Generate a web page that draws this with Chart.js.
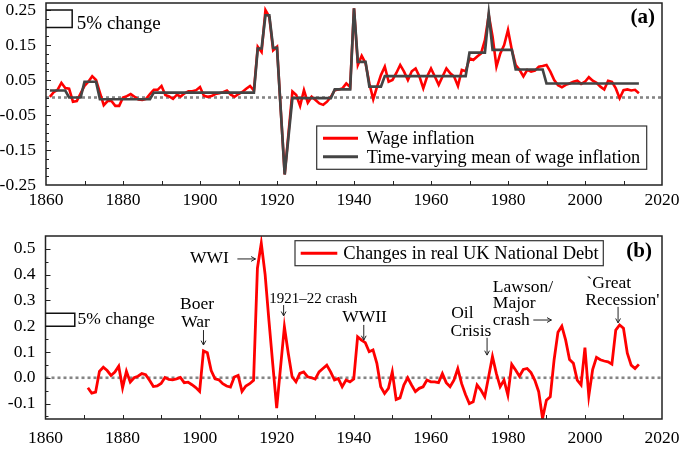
<!DOCTYPE html>
<html><head><meta charset="utf-8">
<script src="https://cdn.jsdelivr.net/npm/chart.js@4"></script>
<style>
html,body{margin:0;padding:0;background:#fff;}
#wrap{position:relative;width:685px;height:450px;overflow:hidden;}
canvas{position:absolute;left:0;}
#ca{top:0;} #cb{top:215px;}
</style></head><body>
<div id="wrap"><canvas id="ca" width="685" height="215"></canvas><canvas id="cb" width="685" height="235"></canvas></div>
<script>
// ---------- DATA ----------
const wageStartYear = 1861;
const wageInflation = [
  0.002, 0.015, 0.022, 0.042, 0.027, 0.025, -0.012, -0.01, 0.012, 0.033,
  0.045, 0.061, 0.05, 0.014, -0.022, -0.01, -0.01, -0.024, -0.024, 0.0,
  0.004, 0.01, 0.002, -0.006, -0.007, -0.004, 0.01, 0.022, 0.022, 0.033,
  0.007, 0.003, -0.004, 0.008, 0.003, 0.012, 0.018, 0.018, 0.021, 0.03,
  0.005, 0.002, 0.004, 0.01, 0.012, 0.015, 0.02, 0.008, 0.002, 0.01,
  0.016, 0.025, 0.033, 0.02, 0.145, 0.13, 0.25, 0.23, 0.135, 0.145,
  -0.04, -0.22, -0.1, 0.017, 0.007, -0.024, 0.021, -0.015, 0.002, -0.007,
  -0.017, -0.021, -0.012, 0.002, 0.021, 0.023, 0.026, 0.04, 0.03, 0.255,
  0.093, 0.119, 0.098, 0.04, -0.005, 0.031, 0.064, 0.088, 0.045, 0.05,
  0.07, 0.093, 0.074, 0.05, 0.075, 0.083, 0.06, 0.026, 0.06, 0.083,
  0.06, 0.036, 0.06, 0.083, 0.069, 0.06, 0.033, 0.079, 0.075, 0.112,
  0.107, 0.117, 0.126, 0.164, 0.236, 0.174, 0.088, 0.126, 0.15, 0.193,
  0.136, 0.093, 0.079, 0.06, 0.079, 0.074, 0.077, 0.088, 0.09, 0.093,
  0.074, 0.05, 0.035, 0.029, 0.036, 0.04, 0.045, 0.048, 0.039, 0.045,
  0.058, 0.048, 0.042, 0.031, 0.023, 0.048, 0.045, 0.026, -0.002, 0.021,
  0.023, 0.02, 0.022, 0.012
];
const wageMean = [
  0.02, 0.02, 0.02, 0.02, 0.02, 0.0, 0.0, 0.0, 0.0, 0.045,
  0.045, 0.045, 0.045, -0.005, -0.005, -0.005, -0.005, -0.005, -0.005, -0.005,
  -0.005, -0.005, -0.005, -0.005, -0.005, -0.005, -0.005, 0.014, 0.014, 0.014,
  0.014, 0.014, 0.014, 0.014, 0.014, 0.014, 0.014, 0.014, 0.014, 0.014,
  0.014, 0.014, 0.014, 0.014, 0.014, 0.014, 0.014, 0.014, 0.014, 0.014,
  0.014, 0.014, 0.014, 0.014, 0.14, 0.14, 0.235, 0.235, 0.142, 0.142,
  -0.04, -0.22, -0.11, -0.002, -0.002, -0.002, -0.002, -0.002, -0.002, -0.002,
  -0.002, -0.002, -0.002, -0.002, 0.023, 0.023, 0.023, 0.023, 0.023, 0.255,
  0.102, 0.102, 0.102, 0.031, 0.031, 0.031, 0.031, 0.061, 0.061, 0.061,
  0.061, 0.061, 0.061, 0.061, 0.061, 0.061, 0.061, 0.061, 0.061, 0.061,
  0.061, 0.061, 0.061, 0.061, 0.061, 0.061, 0.061, 0.061, 0.061, 0.128,
  0.128, 0.128, 0.128, 0.128, 0.24, 0.136, 0.136, 0.136, 0.136, 0.136,
  0.136, 0.08, 0.08, 0.08, 0.08, 0.08, 0.08, 0.08, 0.08, 0.04,
  0.04, 0.04, 0.04, 0.04, 0.04, 0.04, 0.04, 0.04, 0.04, 0.04,
  0.04, 0.04, 0.04, 0.04, 0.04, 0.04, 0.04, 0.04, 0.04, 0.04,
  0.04, 0.04, 0.04, 0.04
];
const debtStartYear = 1871;
const debtChange = [
  -0.039, -0.06, -0.056, 0.025, 0.041, 0.028, 0.009, 0.022, 0.045, -0.039,
  0.025, -0.017, 0.0, 0.006, 0.016, 0.012, -0.01, -0.034, -0.032, -0.022,
  0.001, -0.006, -0.008, -0.004, 0.001, -0.019, -0.017, -0.027, -0.038, -0.053,
  0.104, 0.097, 0.028, -0.004, -0.008, -0.023, -0.032, -0.036, 0.003, 0.009,
  -0.053, -0.032, -0.023, -0.01, 0.425, 0.522, 0.40, 0.22, 0.05, -0.118,
  0.04, 0.198, 0.095, 0.004, -0.016, 0.017, 0.023, 0.004, 0.0, -0.005,
  0.023, 0.036, 0.049, 0.023, -0.009, -0.003, -0.035, -0.009, -0.016, -0.005,
  0.159, 0.146, 0.136, 0.101, 0.108, 0.056, -0.035, -0.061, -0.041, 0.023,
  -0.084, -0.078, -0.028, 0.0, -0.028, -0.054, -0.041, -0.035, -0.009, -0.016,
  -0.016, -0.019, 0.016, -0.019, -0.035, -0.009, 0.035, -0.023, -0.065, -0.1,
  -0.093, -0.028, -0.048, -0.074, 0.004, 0.082, 0.017, -0.035, -0.009, -0.067,
  0.052, 0.03, 0.006, 0.032, 0.036, 0.02, -0.01, -0.054, -0.158, -0.087,
  -0.074, 0.07, 0.177, 0.2, 0.146, 0.071, 0.056, -0.009, -0.028, 0.117,
  -0.071, 0.032, 0.079, 0.07, 0.065, 0.062, 0.053, 0.185, 0.205, 0.192,
  0.095, 0.049, 0.036, 0.052
];
const xTickLabels = [1860, 1880, 1900, 1920, 1940, 1960, 1980, 2000, 2020];
const yTickLabelsA = [-0.25, -0.15, -0.05, 0.05, 0.15, 0.25];
const yTickLabelsB = [-0.1, 0.0, 0.1, 0.2, 0.3, 0.4, 0.5];
const legendA = ['Wage inflation', 'Time-varying mean of wage inflation'];
const legendB = ['Changes in real UK National Debt'];

// ---------- HELPERS ----------
const FONT = "'Liberation Serif','Times New Roman',Times,serif";
const toPoints = (start, arr) => arr.map((v, i) => ({x: start + i, y: v}));
const RED = '#ff0000', DARK = '#444444';

function arrow(ctx, x1, y1, x2, y2) {
  ctx.beginPath(); ctx.moveTo(x1, y1); ctx.lineTo(x2, y2); ctx.stroke();
  const ang = Math.atan2(y2 - y1, x2 - x1), h = 5;
  ctx.beginPath();
  ctx.moveTo(x2 - h * Math.cos(ang - 0.5), y2 - h * Math.sin(ang - 0.5));
  ctx.lineTo(x2, y2);
  ctx.lineTo(x2 - h * Math.cos(ang + 0.5), y2 - h * Math.sin(ang + 0.5));
  ctx.stroke();
}

function decorPlugin(cfg) {
  return {
    id: 'decor',
    afterDraw(chart) {
      const {ctx, chartArea: a, scales: {x, y}} = chart;
      ctx.save();
      ctx.strokeStyle = '#222'; ctx.lineWidth = 1;
      for (let yr = 1870; yr < 2020; yr += 10) {
        const px = Math.round(x.getPixelForValue(yr)) + 0.5;
        ctx.beginPath(); ctx.moveTo(px, a.bottom); ctx.lineTo(px, a.bottom - 4); ctx.stroke();
      }
      for (let k = cfg.yTickFrom; k <= cfg.yTickTo; k++) {
        const v = k * cfg.yTickStep;
        if (v <= y.min || v >= y.max) continue;
        const py = Math.round(y.getPixelForValue(v)) + 0.5;
        const major = cfg.labels.some(l => Math.abs(l - v) < 1e-6);
        ctx.beginPath(); ctx.moveTo(a.left, py); ctx.lineTo(a.left + (major ? 5 : 3), py); ctx.stroke();
      }
      ctx.strokeStyle = '#222'; ctx.lineWidth = 1.5;
      ctx.strokeRect(a.left, a.top, a.right - a.left, a.bottom - a.top);
      ctx.lineWidth = 1.5; ctx.strokeStyle = '#111';
      const bx0 = a.left, bx1 = x.getPixelForValue(cfg.bracket.x1);
      const by0 = y.getPixelForValue(0.25), by1 = y.getPixelForValue(0.20);
      ctx.beginPath(); ctx.moveTo(bx0, by0); ctx.lineTo(bx1, by0); ctx.lineTo(bx1, by1); ctx.lineTo(bx0, by1); ctx.stroke();
      ctx.fillStyle = '#000'; ctx.textBaseline = 'alphabetic'; ctx.textAlign = 'left';
      ctx.font = cfg.bracket.size + 'px ' + FONT;
      ctx.fillText('5% change', x.getPixelForValue(cfg.bracket.tx), y.getPixelForValue(cfg.bracket.ty));
      const L = cfg.legend;
      ctx.fillStyle = '#fff';
      ctx.fillRect(L.x0, L.y0, L.x1 - L.x0, L.y1 - L.y0);
      ctx.strokeStyle = '#333'; ctx.lineWidth = 1.2;
      ctx.strokeRect(L.x0, L.y0, L.x1 - L.x0, L.y1 - L.y0);
      ctx.font = L.size + 'px ' + FONT; ctx.textBaseline = 'middle';
      L.items.forEach((it, i) => {
        const ly = L.rowY[i];
        ctx.strokeStyle = it.color; ctx.lineWidth = 3;
        ctx.beginPath(); ctx.moveTo(L.lx0, ly); ctx.lineTo(L.lx1, ly); ctx.stroke();
        ctx.fillStyle = '#000'; ctx.fillText(it.text, L.tx, ly + 1);
      });
      ctx.fillStyle = '#000';
      (cfg.notes || []).forEach(n => {
        ctx.font = (n.bold ? 'bold ' : '') + (n.size || 17.5) + 'px ' + FONT;
        ctx.textBaseline = 'middle'; ctx.textAlign = 'left';
        ctx.fillText(n.t, x.getPixelForValue(n.x), y.getPixelForValue(n.y));
      });
      ctx.strokeStyle = '#222'; ctx.lineWidth = 1;
      (cfg.arrows || []).forEach(r => {
        arrow(ctx, x.getPixelForValue(r[0]), y.getPixelForValue(r[1]), x.getPixelForValue(r[2]), y.getPixelForValue(r[3]));
      });
      ctx.restore();
    }
  };
}

function makeScales(yMin, yMax, yLabels, digits, yWidth, xHeight, xPad) {
  return {
    x: {
      type: 'linear', min: 1860, max: 2020,
      afterBuildTicks: s => { s.ticks = xTickLabels.map(v => ({value: v})); },
      ticks: {callback: v => String(v), color: '#000', font: {family: FONT, size: 17.5}, padding: xPad, maxRotation: 0, autoSkip: false},
      grid: {display: false, drawTicks: false}, border: {display: false},
      afterFit: s => { s.height = xHeight; s.paddingLeft = 0; s.paddingRight = 0; }
    },
    y: {
      type: 'linear', min: yMin, max: yMax,
      afterBuildTicks: s => { s.ticks = yLabels.map(v => ({value: v})); },
      ticks: {callback: v => Number(v).toFixed(digits), color: '#000', font: {family: FONT, size: 17.5}, padding: 10, autoSkip: false},
      grid: {display: false, drawTicks: false}, border: {display: false},
      afterFit: s => { s.width = yWidth; s.paddingTop = 0; s.paddingBottom = 0; }
    }
  };
}

const zeroLine = {data: [{x: 1860, y: 0}, {x: 2020, y: 0}], borderColor: '#858585', borderWidth: 2.6, borderDash: [3, 3], pointRadius: 0, order: 5};

new Chart(document.getElementById('ca'), {
  type: 'line',
  data: {datasets: [
    {label: legendA[1], data: toPoints(wageStartYear, wageMean), borderColor: DARK, borderWidth: 2.7, pointRadius: 0, tension: 0, order: 0},
    {label: legendA[0], data: toPoints(wageStartYear, wageInflation), borderColor: RED, borderWidth: 2.6, pointRadius: 0, tension: 0, order: 1},
    zeroLine
  ]},
  options: {
    responsive: false, animation: false, devicePixelRatio: 1,
    layout: {autoPadding: false, padding: {left: 0, right: 23, top: 3, bottom: 0}},
    plugins: {legend: {display: false}, tooltip: {enabled: false}},
    scales: makeScales(-0.25, 0.27, yTickLabelsA, 2, 46, 30, 5)
  },
  plugins: [decorPlugin({
    yTickFrom: -10, yTickTo: 11, yTickStep: 0.025, labels: yTickLabelsA,
    bracket: {x1: 1866.8, tx: 1868.0, ty: 0.197, size: 19},
    legend: {x0: 316.7, y0: 126, x1: 646.7, y1: 169.3, lx0: 323, lx1: 358, tx: 366.7, rowY: [138.3, 156.7], size: 18.3,
      items: [{text: legendA[0], color: RED}, {text: legendA[1], color: DARK}]},
    notes: [{t: '(a)', x: 2011.8, y: 0.227, bold: true, size: 21}]
  })]
});

new Chart(document.getElementById('cb'), {
  type: 'line',
  data: {datasets: [
    {label: legendB[0], data: toPoints(debtStartYear, debtChange), borderColor: RED, borderWidth: 2.8, pointRadius: 0, tension: 0, order: 0},
    zeroLine
  ]},
  options: {
    responsive: false, animation: false, devicePixelRatio: 1,
    layout: {autoPadding: false, padding: {left: 0, right: 23, top: 21, bottom: 0}},
    plugins: {legend: {display: false}, tooltip: {enabled: false}},
    scales: makeScales(-0.16, 0.55, yTickLabelsB, 1, 45.5, 31, 9)
  },
  plugins: [decorPlugin({
    yTickFrom: -3, yTickTo: 11, yTickStep: 0.05, labels: yTickLabelsB,
    bracket: {x1: 1867.6, tx: 1868.3, ty: 0.207, size: 17.5},
    legend: {x0: 295, y0: 25.7, x1: 603.3, y1: 50.7, lx0: 300.7, lx1: 337.3, tx: 343.3, rowY: [38.3], size: 18.5,
      items: [{text: legendB[0], color: RED}]},
    notes: [
      {t: 'WWI', x: 1897.5, y: 0.462},
      {t: 'Boer', x: 1894.9, y: 0.284}, {t: 'War', x: 1895.2, y: 0.216},
      {t: '1921\u201322 crash', x: 1918.1, y: 0.307, size: 15},
      {t: 'WWII', x: 1937.0, y: 0.236},
      {t: 'Oil', x: 1965.3, y: 0.250}, {t: 'Crisis', x: 1965.1, y: 0.179},
      {t: 'Lawson/', x: 1976.1, y: 0.351}, {t: 'Major', x: 1976.1, y: 0.289}, {t: 'crash', x: 1976.1, y: 0.224},
      {t: '`Great', x: 2000.4, y: 0.367}, {t: "Recession'", x: 2000.1, y: 0.302},
      {t: '(b)', x: 2010.75, y: 0.49, bold: true, size: 21}
    ],
    arrows: [
      [1909.8, 0.461, 1914.5, 0.461],
      [1901.0, 0.185, 1901.0, 0.127],
      [1921.8, 0.282, 1921.8, 0.240],
      [1942.6, 0.205, 1942.6, 0.146],
      [1974.6, 0.155, 1974.6, 0.088],
      [1986.6, 0.224, 1991.3, 0.224],
      [2008.6, 0.275, 2008.6, 0.213]
    ]
  })]
});
</script>
</body></html>
